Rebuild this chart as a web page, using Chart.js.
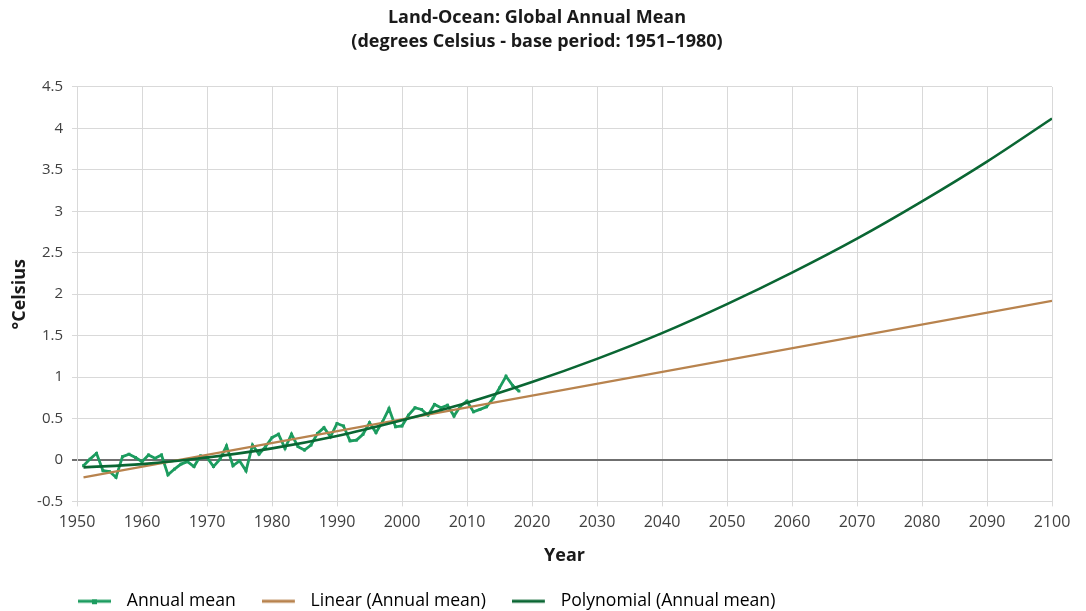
<!DOCTYPE html>
<html>
<head>
<meta charset="utf-8">
<title>Land-Ocean: Global Annual Mean</title>
<script src="https://cdn.jsdelivr.net/npm/chart.js@4/dist/chart.umd.min.js"></script>
<style>
  html, body { margin: 0; padding: 0; background: #ffffff; }
  #wrap { width: 1086px; height: 611px; position: relative; }
</style>
</head>
<body>
<div id="wrap"><canvas id="chart"></canvas></div>
<script>
// Annual global land-ocean temperature anomaly (°C, base period 1951–1980)
const years = [
  1951, 1952, 1953, 1954, 1955, 1956, 1957, 1958, 1959, 1960,
  1961, 1962, 1963, 1964, 1965, 1966, 1967, 1968, 1969, 1970,
  1971, 1972, 1973, 1974, 1975, 1976, 1977, 1978, 1979, 1980,
  1981, 1982, 1983, 1984, 1985, 1986, 1987, 1988, 1989, 1990,
  1991, 1992, 1993, 1994, 1995, 1996, 1997, 1998, 1999, 2000,
  2001, 2002, 2003, 2004, 2005, 2006, 2007, 2008, 2009, 2010,
  2011, 2012, 2013, 2014, 2015, 2016, 2017, 2018
];
const annualMean = [
  -0.07, 0.01, 0.08, -0.13, -0.14, -0.21, 0.04, 0.07, 0.03, -0.02,
   0.06, 0.02, 0.06, -0.18, -0.11, -0.05, -0.02, -0.08, 0.05, 0.03,
  -0.08, 0.01, 0.17, -0.07, -0.01, -0.13, 0.18, 0.07, 0.16, 0.27,
   0.31, 0.14, 0.31, 0.16, 0.12, 0.18, 0.32, 0.39, 0.28, 0.44,
   0.41, 0.23, 0.24, 0.31, 0.45, 0.33, 0.46, 0.62, 0.40, 0.41,
   0.54, 0.63, 0.61, 0.54, 0.67, 0.63, 0.66, 0.53, 0.65, 0.71,
   0.58, 0.61, 0.64, 0.74, 0.87, 1.01, 0.90, 0.83
];

// Linear trend line (end points)
const linearYears = [1951, 2100];
const linearValues = [-0.21, 1.92];

// Polynomial trend line, sampled per decade
const polyYears = [1951, 1960, 1970, 1980, 1990, 2000, 2010, 2020, 2030, 2040, 2050, 2060, 2070, 2080, 2090, 2100];
const polyValues = [-0.09, -0.05, 0.03, 0.14, 0.29, 0.48, 0.69, 0.94, 1.22, 1.53, 1.88, 2.26, 2.67, 3.12, 3.60, 4.12];

// Axis ticks
const xTicks = [1950, 1960, 1970, 1980, 1990, 2000, 2010, 2020, 2030, 2040, 2050, 2060, 2070, 2080, 2090, 2100];
const yTicks = [-0.5, 0, 0.5, 1, 1.5, 2, 2.5, 3, 3.5, 4, 4.5];

const titleLines = ['Land-Ocean: Global Annual Mean', '(degrees Celsius - base period: 1951\u20131980)'];
const seriesNames = ['Annual mean', 'Linear (Annual mean)', 'Polynomial (Annual mean)'];

const COL_MEAN = '#1c9c5f';
const COL_LINEAR = '#b8834e';
const COL_POLY = '#0a6633';
const FONT = "'Open Sans', 'Noto Sans', 'DejaVu Sans', sans-serif";

const toPoints = (xs, ys) => xs.map((x, i) => ({ x: x, y: ys[i] }));

// Legend swatches: a short line, with a square marker for the data series
function swatch(color, withMarker) {
  const c = document.createElement('canvas');
  c.width = 40; c.height = 10;
  const g = c.getContext('2d');
  g.strokeStyle = color;
  g.lineWidth = 3;
  g.beginPath(); g.moveTo(0, 5); g.lineTo(33, 5); g.stroke();
  if (withMarker) { g.fillStyle = color; g.fillRect(14, 3, 5, 5); }
  return c;
}
const swatches = [swatch(COL_MEAN, true), swatch(COL_LINEAR, false), swatch(COL_POLY, false)];

// Nudges title and legend boxes after layout
const boxNudge = {
  id: 'boxNudge',
  afterLayout(chart) {
    const t = chart.titleBlock;
    if (t) { t.left += 11; t.right += 11; }
    const l = chart.legend;
    if (l) {
      const dy = 603 - (l.top + 26 + 10.6);
      l.top += dy; l.bottom += dy;
      l.left += 52;
    }
  }
};

new Chart(document.getElementById('chart'), {
  type: 'line',
  data: {
    datasets: [
      {
        label: seriesNames[0],
        data: toPoints(years, annualMean),
        borderColor: COL_MEAN,
        backgroundColor: COL_MEAN,
        borderWidth: 2.8,
        pointStyle: 'rect',
        pointRadius: 2,
        pointBorderWidth: 0,
        pointBackgroundColor: COL_MEAN,
        tension: 0,
        order: 3
      },
      {
        label: seriesNames[1],
        data: toPoints(linearYears, linearValues),
        borderColor: COL_LINEAR,
        backgroundColor: COL_LINEAR,
        borderWidth: 2.2,
        pointRadius: 0,
        tension: 0,
        order: 2
      },
      {
        label: seriesNames[2],
        data: toPoints(polyYears, polyValues),
        borderColor: COL_POLY,
        backgroundColor: COL_POLY,
        borderWidth: 2.6,
        pointRadius: 0,
        cubicInterpolationMode: 'monotone',
        order: 1
      }
    ]
  },
  options: {
    responsive: true,
    maintainAspectRatio: false,
    animation: false,
    events: [],
    layout: { padding: { left: 0, right: 34, top: 0, bottom: 0 } },
    plugins: {
      title: {
        display: true,
        text: titleLines,
        color: '#1a1a1a',
        font: { family: FONT, size: 18, weight: 'bold', lineHeight: 1.333 },
        padding: { top: 6, bottom: 33 }
      },
      legend: {
        display: true,
        position: 'bottom',
        align: 'start',
        labels: {
          color: '#404040',
          font: { family: FONT, size: 17.6 },
          usePointStyle: true,
          pointStyleWidth: 40,
          padding: 26,
          generateLabels: () => seriesNames.map((name, i) => ({
            text: name,
            pointStyle: swatches[i],
            fillStyle: 'transparent',
            strokeStyle: 'transparent',
            lineWidth: 0,
            hidden: false,
            datasetIndex: i
          }))
        }
      },
      tooltip: { enabled: false }
    },
    scales: {
      x: {
        type: 'linear',
        min: xTicks[0],
        max: xTicks[xTicks.length - 1],
        afterBuildTicks: (s) => { s.ticks = xTicks.map(v => ({ value: v })); },
        afterFit: (s) => { s.height = 56; },
        ticks: {
          color: '#404040',
          font: { family: FONT, size: 16 },
          padding: 6,
          maxRotation: 0,
          autoSkip: false,
          callback: (v) => String(v)
        },
        grid: { color: '#d9d9d9', lineWidth: 1, tickLength: 5 },
        border: { color: '#d9d9d9' },
        title: {
          display: true,
          text: 'Year',
          color: '#1a1a1a',
          font: { family: FONT, size: 18, weight: 'bold', lineHeight: 1 },
          padding: { top: 0, bottom: -7 }
        }
      },
      y: {
        min: yTicks[0],
        max: yTicks[yTicks.length - 1],
        afterBuildTicks: (s) => { s.ticks = yTicks.map(v => ({ value: v })); },
        afterFit: (s) => { s.width = 77; },
        ticks: {
          color: '#404040',
          font: { family: FONT, size: 15 },
          padding: 9,
          autoSkip: false,
          callback: (v) => String(v)
        },
        grid: {
          color: (ctx) => (ctx.tick && ctx.tick.value === 0 ? '#6f6f6f' : '#d9d9d9'),
          lineWidth: (ctx) => (ctx.tick && ctx.tick.value === 0 ? 2 : 1),
          tickLength: 5
        },
        border: { color: '#d9d9d9' },
        title: {
          display: true,
          text: '\u00B0Celsius',
          color: '#1a1a1a',
          font: { family: FONT, size: 18, weight: 'bold', lineHeight: 1.2 },
          padding: { top: 9, bottom: 0 }
        }
      }
    }
  },
  plugins: [boxNudge]
});
</script>
</body>
</html>
